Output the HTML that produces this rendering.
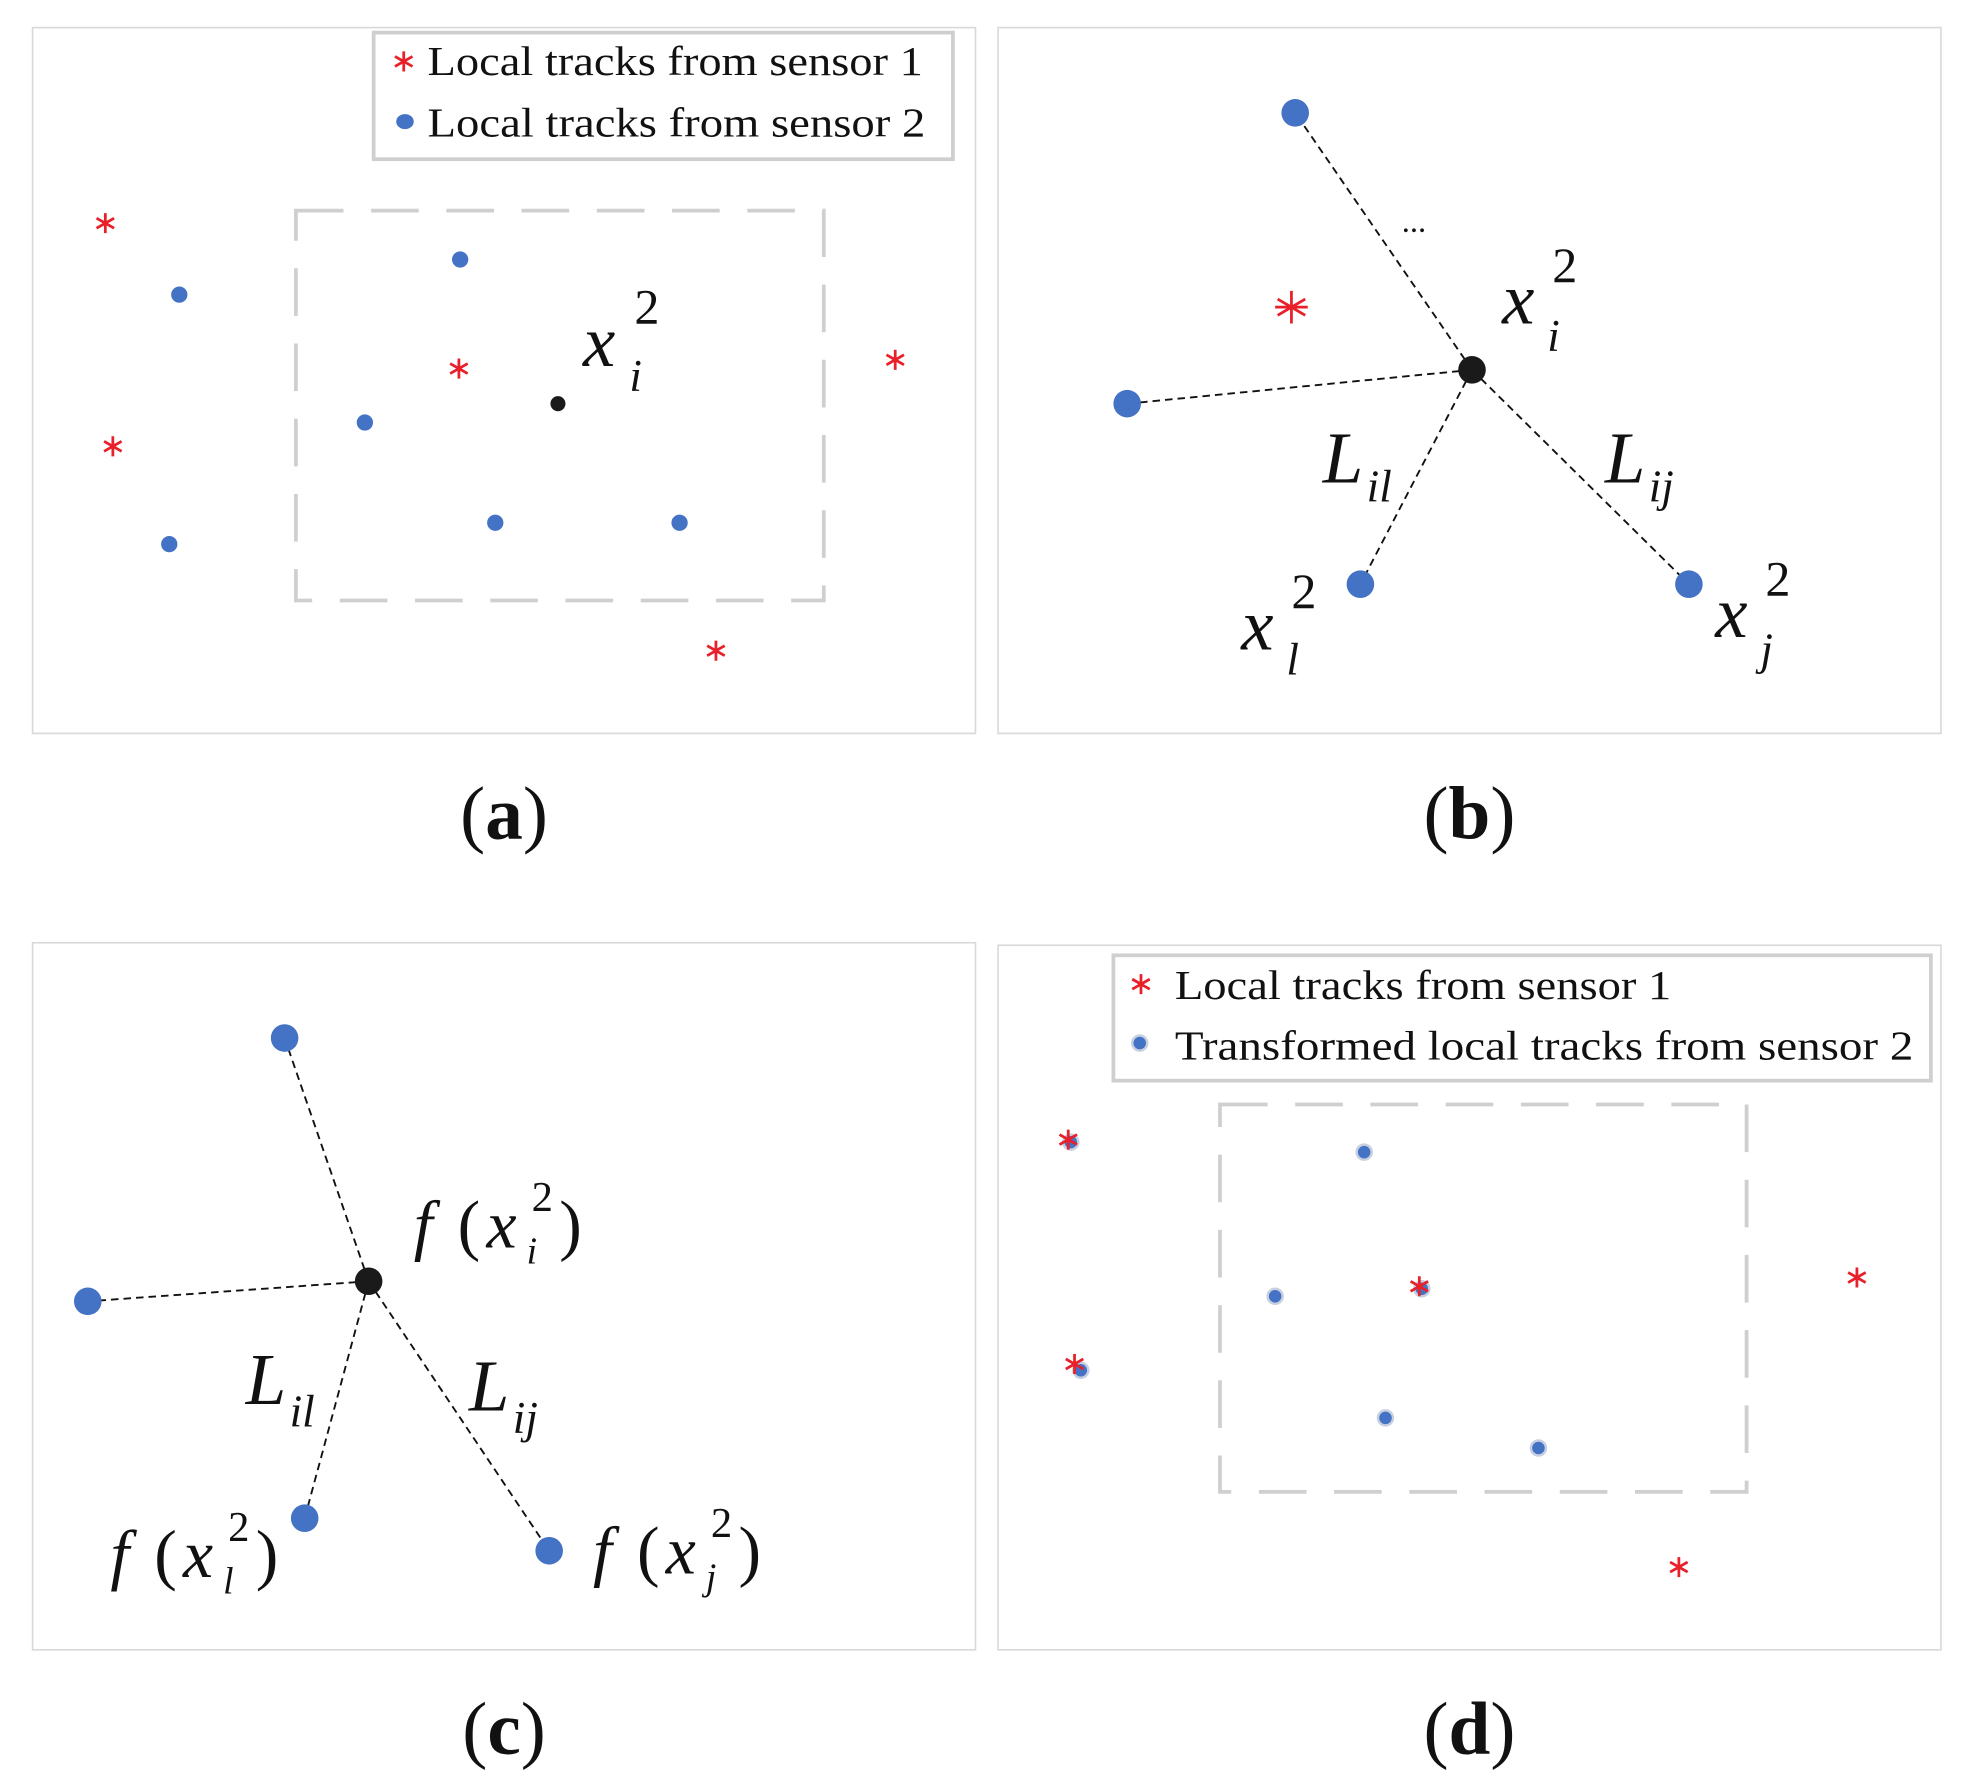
<!DOCTYPE html>
<html><head><style>html,body{margin:0;padding:0;background:#fff}svg{display:block}</style></head>
<body>
<svg width="1966" height="1789" viewBox="0 0 1568 1427" preserveAspectRatio="none" xmlns="http://www.w3.org/2000/svg">
<defs>
<g id="ast"><path d="M0,-8V8M-7,-4L7,4M-7,4L7,-4" stroke="#e8202a" stroke-width="2.2" fill="none"/></g>
<g id="astb"><path d="M0,-13V13M-11,-6.5L11,6.5M-11,6.5L11,-6.5M-13,0H13" stroke="#e8202a" stroke-width="2.2" fill="none"/></g>
</defs>
<g fill="none" stroke="#d9d9d9" stroke-width="1.3">
<rect x="26" y="22" width="752" height="563"/>
<rect x="796" y="22" width="752" height="563"/>
<rect x="26" y="752" width="752" height="564"/>
<rect x="796" y="754" width="752" height="562"/>
</g>
<g fill="none" stroke="#cfcfcf" stroke-width="3" stroke-dasharray="38,22">
<rect x="236" y="168" width="421" height="311"/>
<rect x="973" y="881" width="420" height="309"/>
</g>
<g fill="none" stroke="#cfcfcf" stroke-width="3">
<rect x="298" y="26" width="462" height="101"/>
<rect x="888" y="762" width="652" height="100"/>
</g>
<g font-family="Liberation Serif, serif" font-size="33" fill="#111" lengthAdjust="spacingAndGlyphs">
<text x="341" y="60" textLength="395" lengthAdjust="spacingAndGlyphs">Local tracks from sensor 1</text>
<text x="341" y="109" textLength="397" lengthAdjust="spacingAndGlyphs">Local tracks from sensor 2</text>
<text x="937" y="797" textLength="396" lengthAdjust="spacingAndGlyphs">Local tracks from sensor 1</text>
<text x="937" y="845" textLength="589" lengthAdjust="spacingAndGlyphs">Transformed local tracks from sensor 2</text>
</g>
<use href="#ast" x="322" y="49"/>
<ellipse cx="323" cy="97" rx="7" ry="6" fill="#4472c4"/>
<use href="#ast" x="910" y="785"/>
<circle cx="909" cy="832" r="6" fill="#4472c4" stroke="#c8d0e0" stroke-width="2"/>
<!-- panel a -->
<g fill="#4472c4">
<circle cx="143" cy="235" r="6.5"/><circle cx="135" cy="434" r="6.5"/><circle cx="367" cy="207" r="6.5"/>
<circle cx="291" cy="337" r="6.5"/><circle cx="395" cy="417" r="6.5"/><circle cx="542" cy="417" r="6.5"/>
</g>
<use href="#ast" x="84" y="178"/><use href="#ast" x="90" y="356"/><use href="#ast" x="366" y="294"/>
<use href="#ast" x="714" y="287"/><use href="#ast" x="571" y="519"/>
<circle cx="445" cy="322" r="6" fill="#1a1a1a"/>
<g font-family="Liberation Serif, serif" font-style="italic" fill="#111">
<text x="465" y="292" font-size="58">x</text><text x="506" y="258" font-size="40" font-style="normal">2</text><text x="502" y="312" font-size="36">i</text>
</g>
<!-- panel b -->
<g stroke="#111" stroke-width="1.5" stroke-dasharray="6,4" fill="none">
<line x1="1174" y1="295" x2="1033" y2="90"/><line x1="1174" y1="295" x2="899" y2="322"/>
<line x1="1174" y1="295" x2="1085" y2="466"/><line x1="1174" y1="295" x2="1347" y2="466"/>
</g>
<g fill="#4472c4"><circle cx="1033" cy="90" r="11"/><circle cx="899" cy="322" r="11"/><circle cx="1085" cy="466" r="11"/><circle cx="1347" cy="466" r="11"/></g>
<circle cx="1174" cy="295" r="11" fill="#1a1a1a"/>
<use href="#astb" x="1030" y="245"/>
<text x="1118" y="185" font-family="Liberation Serif, serif" font-size="26" fill="#111">...</text>
<g font-family="Liberation Serif, serif" font-style="italic" fill="#111">
<text x="1198" y="258" font-size="58">x</text><text x="1238" y="225" font-size="40" font-style="normal">2</text><text x="1234" y="280" font-size="36">i</text>
<text x="1055" y="385" font-size="58">L</text><text x="1090" y="400" font-size="36">il</text>
<text x="1280" y="385" font-size="58">L</text><text x="1315" y="400" font-size="36">ij</text>
<text x="990" y="518" font-size="58">x</text><text x="1030" y="485" font-size="40" font-style="normal">2</text><text x="1026" y="538" font-size="36">l</text>
<text x="1368" y="508" font-size="58">x</text><text x="1408" y="475" font-size="40" font-style="normal">2</text><text x="1404" y="530" font-size="36">j</text>
</g>
<!-- panel c -->
<g stroke="#111" stroke-width="1.5" stroke-dasharray="6,4" fill="none">
<line x1="294" y1="1022" x2="227" y2="828"/><line x1="294" y1="1022" x2="70" y2="1038"/>
<line x1="294" y1="1022" x2="243" y2="1211"/><line x1="294" y1="1022" x2="438" y2="1237"/>
</g>
<g fill="#4472c4"><circle cx="227" cy="828" r="11"/><circle cx="70" cy="1038" r="11"/><circle cx="243" cy="1211" r="11"/><circle cx="438" cy="1237" r="11"/></g>
<circle cx="294" cy="1022" r="11" fill="#1a1a1a"/>
<g font-family="Liberation Serif, serif" font-style="italic" fill="#111">
<text x="330" y="995" font-size="54">f</text><text x="365" y="995" font-size="54" font-style="normal">(</text><text x="388" y="995" font-size="54">x</text><text x="424" y="966" font-size="34" font-style="normal">2</text><text x="420" y="1008" font-size="30">i</text><text x="446" y="995" font-size="54" font-style="normal">)</text>
<text x="196" y="1120" font-size="58">L</text><text x="231" y="1138" font-size="36">il</text>
<text x="374" y="1125" font-size="58">L</text><text x="409" y="1143" font-size="36">ij</text>
<text x="88" y="1258" font-size="54">f</text><text x="123" y="1258" font-size="54" font-style="normal">(</text><text x="146" y="1258" font-size="54">x</text><text x="182" y="1229" font-size="34" font-style="normal">2</text><text x="178" y="1271" font-size="30">l</text><text x="204" y="1258" font-size="54" font-style="normal">)</text>
<text x="473" y="1255" font-size="54">f</text><text x="508" y="1255" font-size="54" font-style="normal">(</text><text x="531" y="1255" font-size="54">x</text><text x="567" y="1226" font-size="34" font-style="normal">2</text><text x="563" y="1268" font-size="30">j</text><text x="589" y="1255" font-size="54" font-style="normal">)</text>
</g>
<!-- panel d -->
<g fill="#4472c4" stroke="#c8d0e0" stroke-width="2">
<circle cx="854" cy="911" r="6"/><circle cx="862" cy="1093" r="6"/><circle cx="1088" cy="919" r="6"/>
<circle cx="1017" cy="1034" r="6"/><circle cx="1134" cy="1028" r="6"/><circle cx="1105" cy="1131" r="6"/><circle cx="1227" cy="1155" r="6"/>
</g>
<use href="#ast" x="852" y="909"/><use href="#ast" x="857" y="1088"/><use href="#ast" x="1132" y="1026"/>
<use href="#ast" x="1481" y="1019"/><use href="#ast" x="1339" y="1250"/>
<!-- captions -->
<g font-family="Liberation Serif, serif" font-size="60" fill="#111" text-anchor="middle">
<text x="402" y="669"><tspan>(</tspan><tspan font-weight="bold">a</tspan><tspan>)</tspan></text>
<text x="1172" y="669"><tspan>(</tspan><tspan font-weight="bold">b</tspan><tspan>)</tspan></text>
<text x="402" y="1399"><tspan>(</tspan><tspan font-weight="bold">c</tspan><tspan>)</tspan></text>
<text x="1172" y="1399"><tspan>(</tspan><tspan font-weight="bold">d</tspan><tspan>)</tspan></text>
</g>
</svg>
</body></html>
